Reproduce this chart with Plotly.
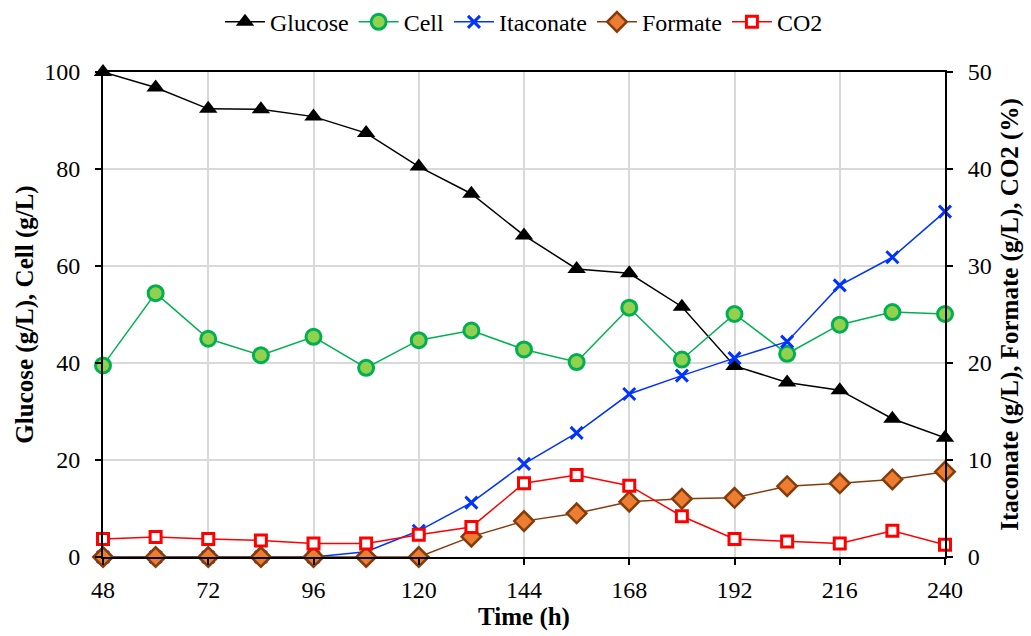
import plotly.graph_objects as go

# Fermentation time course (h)
time_h = [48, 60, 72, 84, 96, 108, 120, 132, 144, 156, 168, 180, 192, 204, 216, 228, 240]

# Left axis (g/L)
glucose = [100, 96.8, 92.4, 92.3, 90.8, 87.4, 80.5, 74.9, 66.3, 59.4, 58.5, 51.6, 39.4, 36.0, 34.4, 28.5, 24.6]
cell = [39.5, 54.4, 45.0, 41.6, 45.4, 39.0, 44.7, 46.7, 42.8, 40.2, 51.4, 40.7, 50.1, 41.9, 47.9, 50.5, 50.1]

# Right axis (g/L and %)
itaconate = [0, 0, 0, 0, 0, 0.55, 2.7, 5.6, 9.6, 12.8, 16.8, 18.7, 20.5, 22.2, 28.0, 30.9, 35.6]
formate = [0, 0, 0, 0, 0, 0, 0, 2.1, 3.7, 4.5, 5.7, 6.0, 6.1, 7.3, 7.6, 8.0, 8.8]
co2 = [1.85, 2.05, 1.85, 1.7, 1.4, 1.4, 2.3, 3.1, 7.6, 8.45, 7.35, 4.2, 1.85, 1.6, 1.4, 2.7, 1.25]

x_ticks = [48, 72, 96, 120, 144, 168, 192, 216, 240]

FONT = "Liberation Serif, Times New Roman, serif"
TICK_SIZE = 24
TITLE_SIZE = 25

fig = go.Figure()

fig.add_trace(go.Scatter(
    x=time_h, y=glucose, name="Glucose", mode="lines+markers",
    line=dict(color="black", width=1.5),
    marker=dict(symbol="triangle-up", size=16, color="black"),
    cliponaxis=False,
))
fig.add_trace(go.Scatter(
    x=time_h, y=cell, name="Cell", mode="lines+markers",
    line=dict(color="#00B050", width=1.5),
    marker=dict(symbol="circle", size=15, color="#92D050",
                line=dict(color="#00B050", width=3)),
    cliponaxis=False,
))
fig.add_trace(go.Scatter(
    x=time_h, y=itaconate, name="Itaconate", mode="lines+markers", yaxis="y2",
    line=dict(color="#0033FF", width=1.5),
    marker=dict(symbol="x-thin-open", size=12, color="#0033FF",
                line=dict(color="#0033FF", width=3)),
    cliponaxis=False,
))
fig.add_trace(go.Scatter(
    x=time_h, y=formate, name="Formate", mode="lines+markers", yaxis="y2",
    line=dict(color="#843C0C", width=1.5),
    marker=dict(symbol="diamond", size=15, color="#ED7D31",
                line=dict(color="#843C0C", width=2.5)),
    cliponaxis=False,
))
fig.add_trace(go.Scatter(
    x=time_h, y=co2, name="CO2", mode="lines+markers", yaxis="y2",
    line=dict(color="#FF0000", width=1.5),
    marker=dict(symbol="square", size=11, color="white",
                line=dict(color="#FF0000", width=3)),
    cliponaxis=False,
))

fig.update_layout(
    width=1031, height=636,
    margin=dict(l=103, r=84, t=72, b=78),
    paper_bgcolor="white", plot_bgcolor="white",
    font=dict(family=FONT, size=TICK_SIZE, color="black"),
    showlegend=True,
    legend=dict(
        orientation="h", x=0.5, xanchor="center",
        y=0.965, yanchor="middle", yref="container",
        font=dict(family=FONT, size=TICK_SIZE),
        itemwidth=40, tracegroupgap=0, bgcolor="rgba(0,0,0,0)",
    ),
    xaxis=dict(
        range=[48, 240], tickvals=x_ticks, ticktext=[str(v) for v in x_ticks],
        showgrid=True, gridcolor="#D9D9D9", gridwidth=1.5,
        showline=True, linecolor="black", linewidth=2, mirror=True,
        ticks="outside", ticklen=6, tickcolor="black", tickwidth=1.5,
        ticklabelstandoff=4,
        zeroline=False,
        title=dict(text="<b>Time (h)</b>", font=dict(family=FONT, size=TITLE_SIZE), standoff=4),
        tickfont=dict(family=FONT, size=TICK_SIZE),
    ),
    yaxis=dict(
        range=[0, 100], dtick=20, tick0=0,
        showgrid=True, gridcolor="#D9D9D9", gridwidth=1.5,
        showline=True, linecolor="black", linewidth=2,
        ticks="outside", ticklen=6, tickcolor="black", tickwidth=1.5,
        ticklabelstandoff=10,
        zeroline=False,
        title=dict(text="<b>Glucose (g/L), Cell (g/L)</b>", font=dict(family=FONT, size=TITLE_SIZE), standoff=3),
        tickfont=dict(family=FONT, size=TICK_SIZE),
    ),
    yaxis2=dict(
        range=[0, 50], dtick=10, tick0=0, overlaying="y", side="right",
        showgrid=False, showline=True, linecolor="black", linewidth=2,
        ticks="outside", ticklen=6, tickcolor="black", tickwidth=1.5,
        ticklabelstandoff=10,
        zeroline=False,
        title=dict(text="<b>Itaconate (g/L), Formate (g/L), CO2 (%)</b>", font=dict(family=FONT, size=TITLE_SIZE), standoff=10),
        tickfont=dict(family=FONT, size=TICK_SIZE),
    ),
)

fig.write_html("out.html")
